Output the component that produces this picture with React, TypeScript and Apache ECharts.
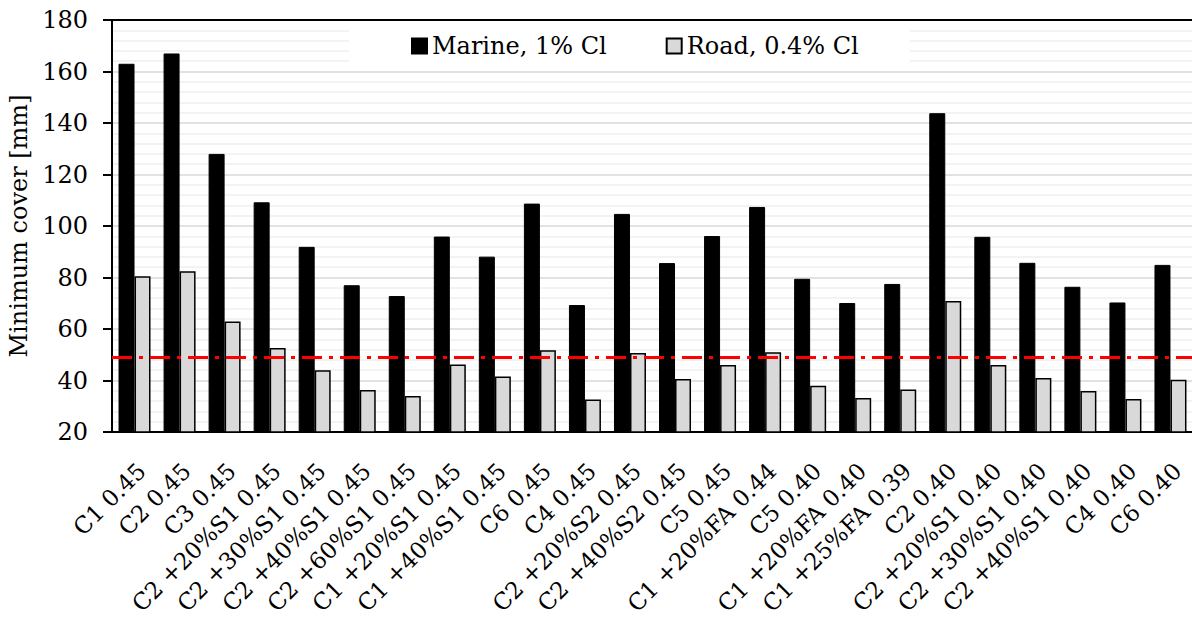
import React, { useEffect, useRef } from "react";
import * as echarts from "echarts";

const categories = [
  "C1 0.45", "C2 0.45", "C3 0.45", "C2 +20%S1 0.45", "C2 +30%S1 0.45",
  "C2 +40%S1 0.45", "C2 +60%S1 0.45", "C1 +20%S1 0.45", "C1 +40%S1 0.45",
  "C6 0.45", "C4 0.45", "C2 +20%S2 0.45", "C2 +40%S2 0.45", "C5 0.45",
  "C1 +20%FA 0.44", "C5 0.40", "C1 +20%FA 0.40", "C1 +25%FA 0.39", "C2 0.40",
  "C2 +20%S1 0.40", "C2 +30%S1 0.40", "C2 +40%S1 0.40", "C4 0.40", "C6 0.40",
];

const marine = [
  163, 167, 128, 109.2, 91.9, 77, 72.8, 95.9, 88.1, 108.7, 69.3, 104.7,
  85.6, 96.1, 107.4, 79.5, 70.1, 77.5, 143.8, 95.8, 85.7, 76.4, 70.3, 84.9,
];

const road = [
  80.5, 82.4, 62.9, 52.6, 44, 36.3, 34, 46.2, 41.6, 51.7, 32.6, 50.7,
  40.6, 46, 51, 38, 33.2, 36.5, 70.9, 46, 41, 35.9, 32.8, 40.3,
];

const threshold = 49;
const yTicks = { min: 20, max: 180, interval: 20 };
const seriesNames = ["Marine, 1% Cl", "Road, 0.4% Cl"];

const FONT = "DejaVu Serif";

export default function App() {
  const ref = useRef<HTMLDivElement>(null);

  useEffect(() => {
    if (!ref.current) return;
    const chart = echarts.init(ref.current, null, { renderer: "svg" });
    chart.setOption({
      animation: false,
      backgroundColor: "#ffffff",
      textStyle: { fontFamily: FONT, color: "#000" },
      grid: { left: 112, top: 20, width: 1081, height: 412, outerBoundsMode: "none", containLabel: false },
      legend: {
        left: 349,
        top: 21,
        padding: [10, 51, 10, 62],
        backgroundColor: "#ffffff",
        itemWidth: 15,
        itemHeight: 15,
        itemGap: 59,
        icon: "rect",
        textStyle: { fontFamily: FONT, fontSize: 24, color: "#000", lineHeight: 30 },
        data: seriesNames,
      },
      xAxis: [
        {
          type: "category",
          data: categories,
          axisLine: { show: true, lineStyle: { color: "#000", width: 2 } },
          axisTick: { show: false },
          axisLabel: {
            interval: 0,
            rotate: 45,
            margin: 42,
            padding: [0, -10, 0, 0],
            fontFamily: FONT,
            fontSize: 23,
            color: "#000",
          },
        },
        {
          type: "category",
          data: categories,
          position: "top",
          axisLine: { show: true, lineStyle: { color: "#000", width: 2 } },
          axisTick: { show: false },
          axisLabel: { show: false },
        },
      ],
      yAxis: {
        type: "value",
        min: yTicks.min,
        max: yTicks.max,
        interval: yTicks.interval,
        name: "Minimum cover [mm]",
        nameLocation: "middle",
        nameGap: 72,
        nameTextStyle: { fontFamily: FONT, fontSize: 24, color: "#000" },
        axisLine: { show: true, lineStyle: { color: "#000", width: 2 } },
        axisTick: { show: true, inside: false, length: 9, lineStyle: { color: "#000", width: 2 } },
        axisLabel: { margin: 24, fontFamily: FONT, fontSize: 24, color: "#000" },
        splitLine: { show: true, lineStyle: { color: "#d9d9d9", width: 1.5 } },
        minorTick: { show: false, splitNumber: 5 },
        minorSplitLine: { show: true, lineStyle: { color: "#efefef", width: 1.5 } },
      },
      series: [
        {
          name: seriesNames[0],
          type: "bar",
          data: marine,
          barWidth: 16,
          barGap: "0%",
          itemStyle: { color: "#000000", borderColor: "#000", borderWidth: 1 },
        },
        {
          name: seriesNames[1],
          type: "bar",
          data: road,
          barWidth: 16,
          barGap: "0%",
          itemStyle: { color: "#d9d9d9", borderColor: "#000", borderWidth: 1.5 },
          markLine: {
            silent: true,
            symbol: ["none", "none"],
            label: { show: false },
            lineStyle: { color: "#ff0000", width: 3, type: [20, 7, 4, 7] },
            data: [{ yAxis: threshold }],
          },
        },
      ],
    });
    return () => chart.dispose();
  }, []);

  return (
    <div
      ref={ref}
      style={{ position: "fixed", left: 0, top: 0, width: 1192, height: 628 }}
    />
  );
}
